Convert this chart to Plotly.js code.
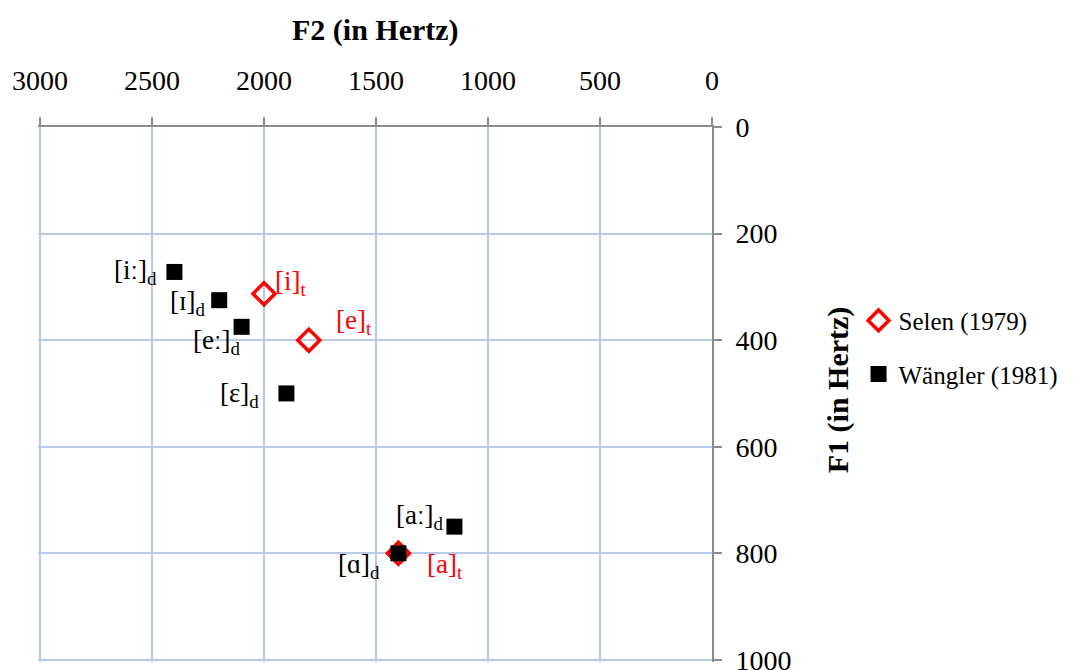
<!DOCTYPE html>
<html>
<head>
<meta charset="utf-8">
<script src="https://cdn.plot.ly/plotly-3.0.1.min.js"></script>
<style>html,body{margin:0;padding:0;background:#fff;}#chart{width:1086px;height:670px;}</style>
</head>
<body>
<div id="chart"></div>
<script>
// ---- data ----
const seriesNames = ["Selen (1979)", "Wängler (1981)"];
const selenVowels = ["[i]", "[e]", "[a]"];
const selenF2 = [2000, 1800, 1400];
const selenF1 = [313, 400, 800];
const waenglerVowels = ["[iː]", "[ɪ]", "[eː]", "[ɛ]", "[aː]", "[ɑ]"];
const waenglerF2 = [2400, 2200, 2100, 1900, 1150, 1400];
const waenglerF1 = [272, 325, 375, 500, 750, 800];
const selenSub = "t";
const waenglerSub = "d";
const xTitle = "F2 (in Hertz)";
const yTitle = "F1 (in Hertz)";

// ---- label styling (pixel offsets: [dx, dy, anchor]) ----
const selenOffsets = [[9, -11, "left"], [25, -18, "left"], [27, 13, "left"]];
const waenglerOffsets = [[-15, 0, "right"], [-12, 3, "right"], [0, 15, "right"], [-25, 2, "right"], [-9, -10, "right"], [-16, 13, "right"]];

const FONT = "Liberation Serif, Times New Roman, serif";
const RED = "#ff0000";

const traces = [
  {
    type: "scatter", mode: "markers", name: seriesNames[0],
    x: selenF2, y: selenF1, legendgroup: "a",
    marker: {symbol: "diamond-open", size: 17, color: RED, line: {width: 3.5, color: RED}}
  },
  {
    type: "scatter", mode: "markers", name: seriesNames[1],
    x: waenglerF2, y: waenglerF1, legendgroup: "b",
    marker: {symbol: "square", size: 16, color: "#000000"}
  }
];

const annotations = [];
selenVowels.forEach((v, i) => {
  const o = selenOffsets[i];
  annotations.push({xref: "x", yref: "y", x: selenF2[i], y: selenF1[i], text: v + "<sub>" + selenSub + "</sub>",
    showarrow: false, xanchor: o[2], yanchor: "middle", xshift: o[0], yshift: -o[1],
    font: {family: FONT, size: 27, color: RED}});
});
waenglerVowels.forEach((v, i) => {
  const o = waenglerOffsets[i];
  annotations.push({xref: "x", yref: "y", x: waenglerF2[i], y: waenglerF1[i], text: v + "<sub>" + waenglerSub + "</sub>",
    showarrow: false, xanchor: o[2], yanchor: "middle", xshift: o[0], yshift: -o[1],
    font: {family: FONT, size: 27, color: "#000000"}});
});
annotations.push({xref: "paper", yref: "paper", x: 0.5007, y: 1.181, text: "<b>" + xTitle + "</b>", showarrow: false,
  xanchor: "center", yanchor: "middle", font: {family: FONT, size: 30, color: "#000"}});
annotations.push({xref: "paper", yref: "paper", x: 1.187, y: 0.508, text: "<b>" + yTitle + "</b>", showarrow: false,
  textangle: -90, xanchor: "center", yanchor: "middle", font: {family: FONT, size: 30, color: "#000"}});

const axisCommon = {
  showline: true, linecolor: "#8c8c8c", linewidth: 2,
  ticks: "outside", ticklen: 8, tickwidth: 2, tickcolor: "#8c8c8c",
  showgrid: true, gridcolor: "#b8c8e8", gridwidth: 2, zeroline: false,
  ticklabeloverflow: "allow",
  tickfont: {family: FONT, size: 28, color: "#000"}
};

const layout = {
  width: 1086, height: 670,
  margin: {l: 38, r: 374, t: 127, b: 8, pad: 0},
  paper_bgcolor: "#fff", plot_bgcolor: "#fff",
  showlegend: true,
  xaxis: Object.assign({}, axisCommon, {range: [3009, 0], side: "top", dtick: 500, tick0: 0, ticklabelstandoff: 16}),
  yaxis: Object.assign({}, axisCommon, {range: [1004, 0], side: "right", dtick: 200, tick0: 0, ticklabelstandoff: 8}),
  legend: {x: 1.2174, y: 0.681, xanchor: "left", yanchor: "top", traceorder: "grouped", tracegroupgap: 18,
    font: {family: FONT, size: 25, color: "#000"}, bgcolor: "rgba(0,0,0,0)", itemwidth: 30},
  annotations: annotations
};

Plotly.newPlot("chart", traces, layout, {displayModeBar: false, staticPlot: true});
</script>
</body>
</html>
